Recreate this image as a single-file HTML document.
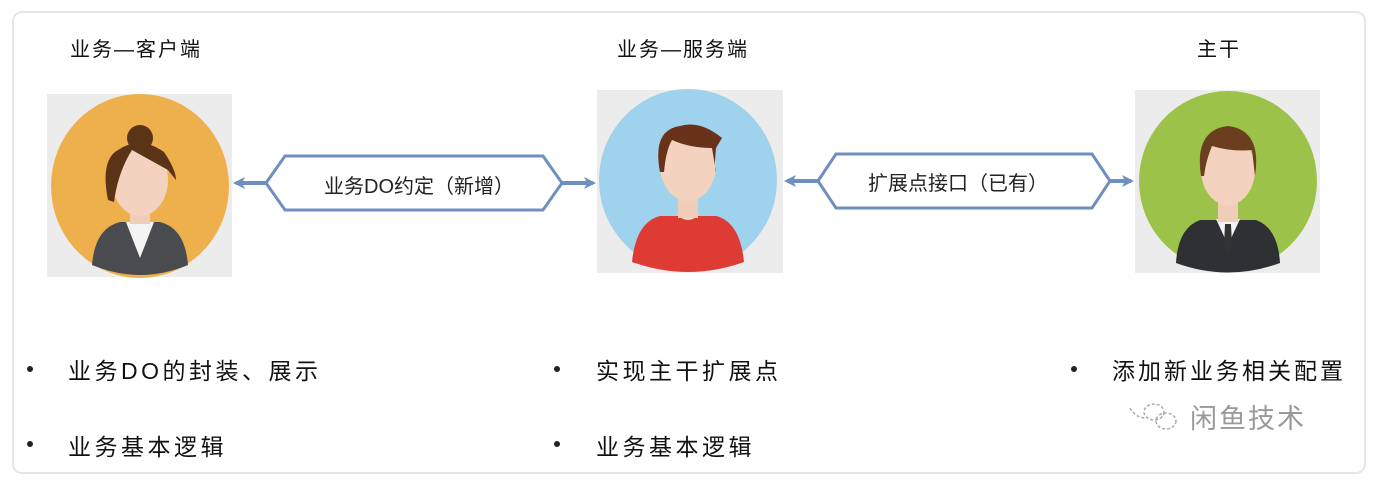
<!DOCTYPE html>
<html><head><meta charset="utf-8">
<style>
html,body{margin:0;padding:0;background:#fff;}
body{width:1392px;height:490px;overflow:hidden;position:relative;font-family:"Liberation Sans","Noto Sans CJK SC",sans-serif;}
.card{position:absolute;left:12px;top:11px;width:1350px;height:459px;border:2px solid #e6e6e8;border-radius:10px;background:#fff;}
.t{position:absolute;color:#111;white-space:nowrap;}
.title{font-size:20px;letter-spacing:2px;top:33px;}
.b{font-size:23px;letter-spacing:3.5px;color:#111;}
.dot{position:absolute;width:6px;height:6px;border-radius:50%;background:#222;}
</style></head><body>
<div class="card"></div>
<svg width="1392" height="490" style="position:absolute;left:0;top:0">
  <defs>
    <marker id="ah" markerWidth="12" markerHeight="12" refX="9" refY="6" orient="auto" markerUnits="userSpaceOnUse">
      <path d="M0,0 L12,6 L0,12 L3,6 Z" fill="#6f8fbf"/>
    </marker>
  </defs>
  <rect x="47" y="94" width="185" height="183" fill="#ececec"/>
  <rect x="597" y="90" width="186" height="183" fill="#ececec"/>
  <rect x="1135" y="90" width="185" height="183" fill="#ececec"/>

  <ellipse cx="140" cy="186" rx="89" ry="92" fill="#eeb04c"/>
  <path d="M92,265 Q95,228 120,222 L160,222 Q185,228 188,265 Q140,285 92,265 Z" fill="#4a4b4f"/>
  <path d="M126,222 L140,258 L154,222 Z" fill="#f4f4f4"/>
  <rect x="130" y="200" width="20" height="24" fill="#f0cdb8"/>
  <ellipse cx="140" cy="180" rx="28" ry="36" fill="#f3d3c0"/>
  <path d="M108,200 Q100,160 118,150 Q140,135 164,152 Q176,170 176,180 L168,170 Q150,160 132,150 Q118,172 114,202 Z" fill="#5b3417"/>
  <circle cx="140" cy="138" r="13" fill="#5b3417"/>

  <ellipse cx="688" cy="180" rx="89" ry="91" fill="#9fd2ec"/>
  <path d="M632,262 Q636,222 660,216 L716,216 Q740,222 744,262 Q688,282 632,262 Z" fill="#de3b35"/>
  <path d="M676,214 Q688,226 700,214 Z" fill="#f3d3c0"/>
  <rect x="678" y="196" width="20" height="22" fill="#f0cdb8"/>
  <ellipse cx="688" cy="165" rx="28" ry="36" fill="#f3d3c0"/>
  <path d="M660,172 Q652,130 680,126 Q700,120 722,138 L716,148 Q714,170 716,172 L712,148 Q690,148 672,140 Q666,150 664,172 Z" fill="#6a3218"/>

  <ellipse cx="1228" cy="181" rx="89" ry="90" fill="#9dc24a"/>
  <path d="M1176,263 Q1178,228 1200,220 L1256,220 Q1278,228 1280,263 Q1228,282 1176,263 Z" fill="#2f3033"/>
  <path d="M1216,219 L1228,245 L1240,219 Z" fill="#f4f4f4"/>
  <path d="M1225,224 L1231,224 L1232,246 L1228,252 L1224,246 Z" fill="#333"/>
  <rect x="1218" y="200" width="20" height="22" fill="#f0cdb8"/>
  <ellipse cx="1228" cy="170" rx="27" ry="35" fill="#f3d3c0"/>
  <path d="M1201,176 Q1194,130 1228,126 Q1262,130 1255,176 L1252,150 Q1232,152 1212,146 Q1206,160 1204,176 Z" fill="#6a3e1e"/>

  <polygon points="266,183 285,156 543,156 562,183 543,210 285,210" fill="#fff" stroke="#6f8fbf" stroke-width="3"/>
  <line x1="266" y1="183" x2="236" y2="183" stroke="#6f8fbf" stroke-width="4" marker-end="url(#ah)"/>
  <line x1="562" y1="183" x2="593" y2="183" stroke="#6f8fbf" stroke-width="4" marker-end="url(#ah)"/>
  <polygon points="818,181 836,154 1092,154 1110,181 1092,208 836,208" fill="#fff" stroke="#6f8fbf" stroke-width="3"/>
  <line x1="818" y1="181" x2="787" y2="181" stroke="#6f8fbf" stroke-width="4" marker-end="url(#ah)"/>
  <line x1="1110" y1="181" x2="1131" y2="181" stroke="#6f8fbf" stroke-width="4" marker-end="url(#ah)"/>

  <g fill="none" stroke="#aaa" stroke-width="1.5" stroke-dasharray="3 2">
    <ellipse cx="1154" cy="412" rx="10" ry="8"/>
    <ellipse cx="1166" cy="421" rx="10" ry="8"/>
    <path d="M1130,408 Q1136,418 1146,418"/>
  </g>
</svg>

<div class="t title" style="left:70px;">业务—客户端</div>
<div class="t title" style="left:617px;">业务—服务端</div>
<div class="t title" style="left:1197px;">主干</div>

<div class="t" style="left:324px;top:170px;font-size:20px;color:#222;">业务DO约定（新增）</div>
<div class="t" style="left:868px;top:167px;font-size:20px;color:#222;">扩展点接口（已有）</div>

<div class="dot" style="left:27px;top:366px;"></div>
<div class="t b" style="left:68px;top:352px;">业务DO的封装、展示</div>
<div class="dot" style="left:27px;top:441px;"></div>
<div class="t b" style="left:68px;top:428px;">业务基本逻辑</div>

<div class="dot" style="left:554px;top:366px;"></div>
<div class="t b" style="left:596px;top:352px;">实现主干扩展点</div>
<div class="dot" style="left:554px;top:441px;"></div>
<div class="t b" style="left:596px;top:428px;">业务基本逻辑</div>

<div class="dot" style="left:1071px;top:366px;"></div>
<div class="t b" style="left:1112px;top:352px;letter-spacing:3px;">添加新业务相关配置</div>
<div class="t" style="left:1190px;top:397px;font-size:27px;color:#999;letter-spacing:2px;">闲鱼技术</div>
</body></html>
